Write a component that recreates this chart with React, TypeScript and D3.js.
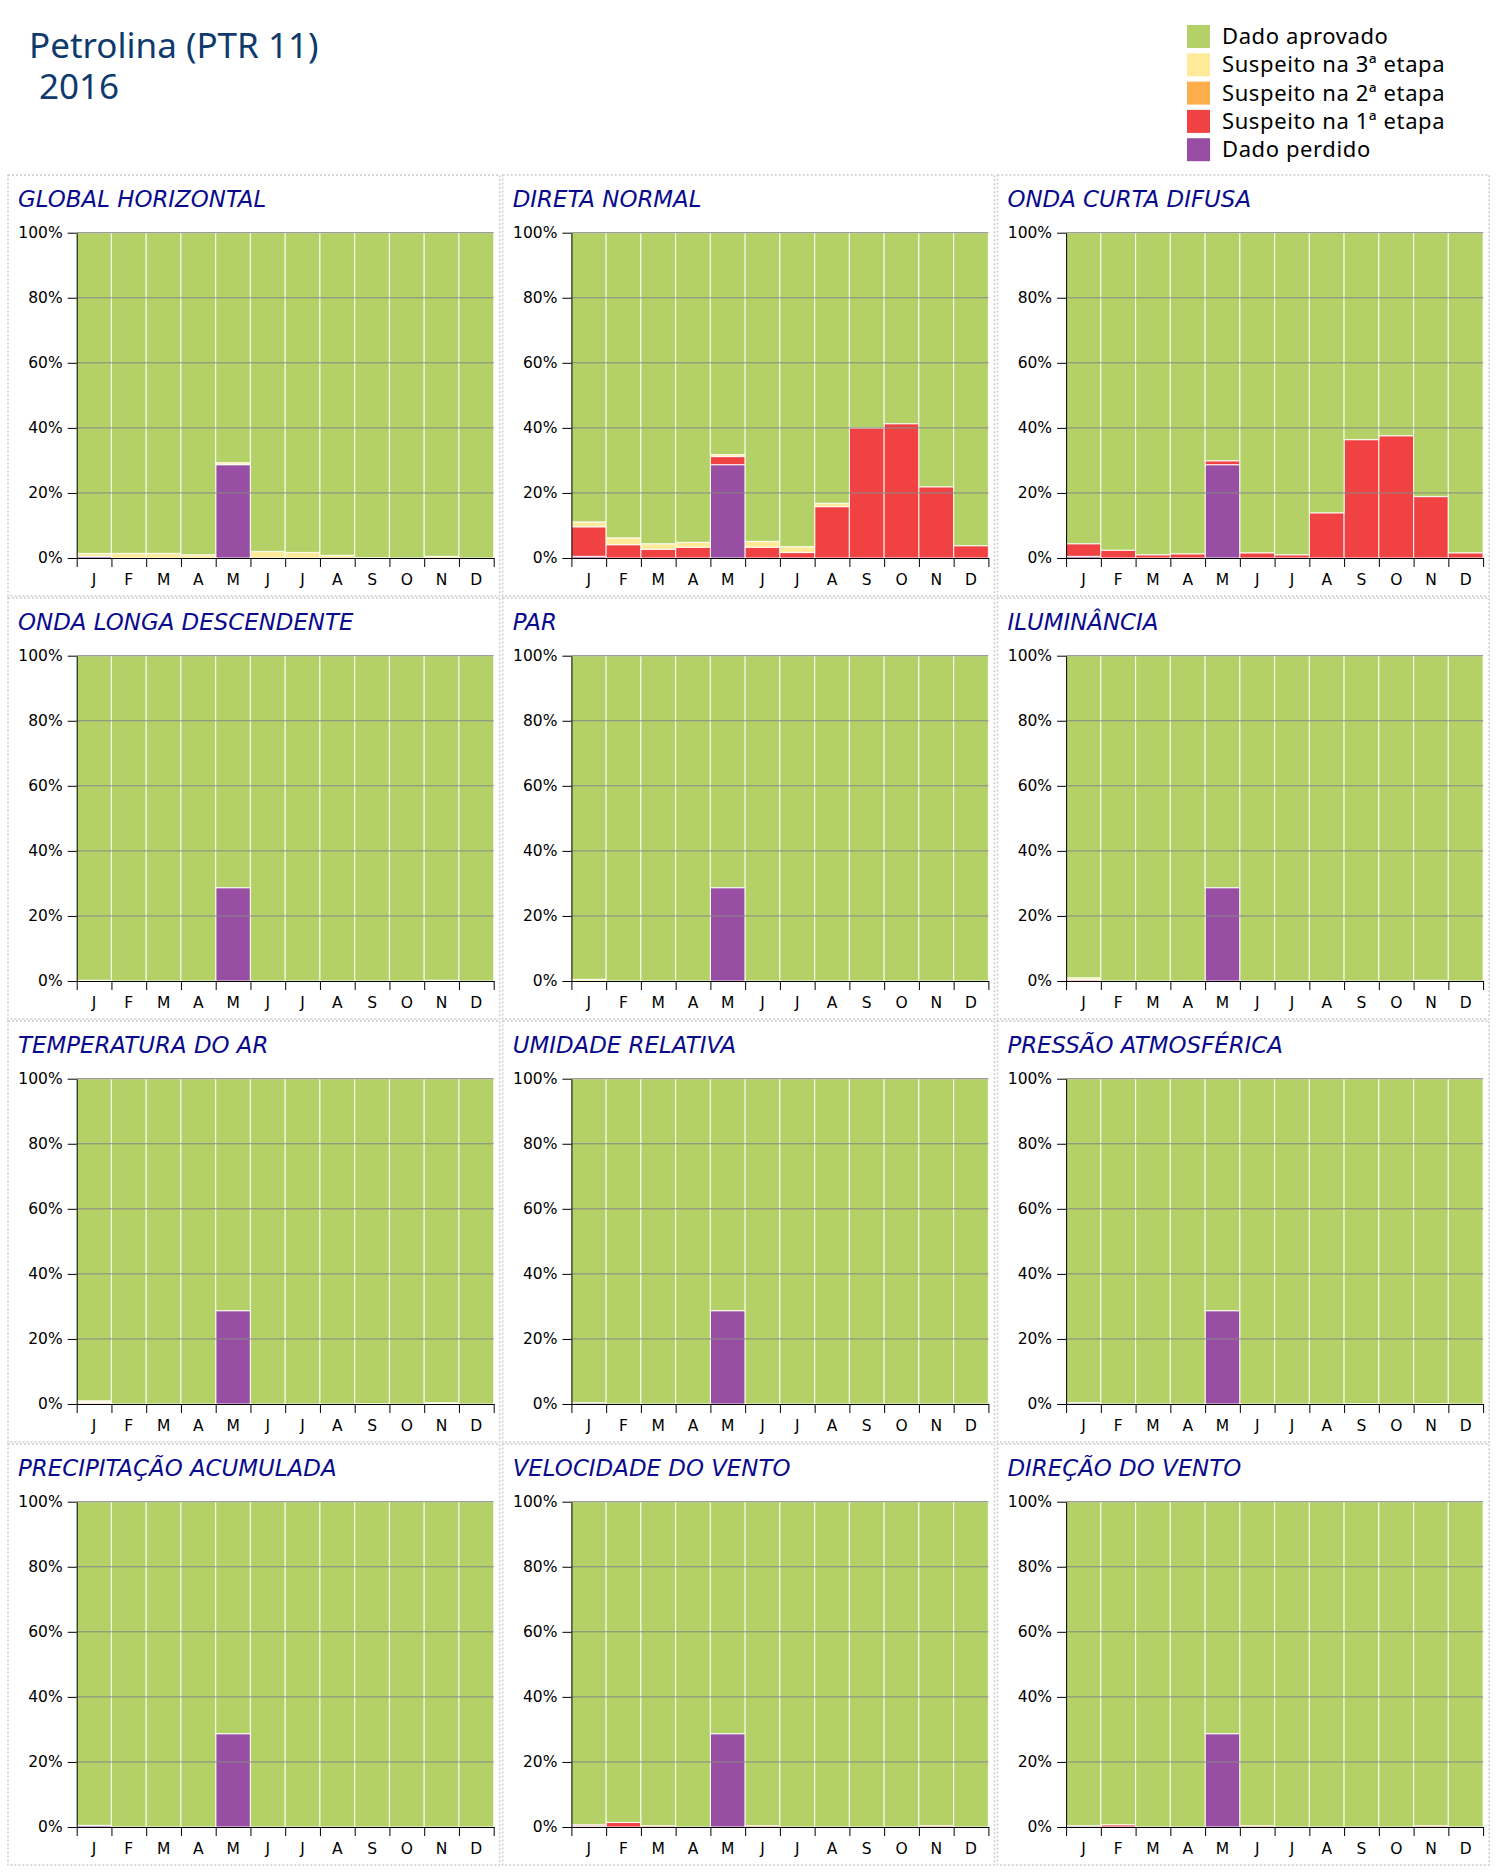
import React, { useRef, useEffect } from "react";
import * as d3 from "d3";

// months (keys must be unique for the band scale, labels are what is drawn)
const monthKeys = ["jan", "fev", "mar", "abr", "mai", "jun", "jul", "ago", "set", "out", "nov", "dez"];
const monthLabels = ["J", "F", "M", "A", "M", "J", "J", "A", "S", "O", "N", "D"];

const panelTitles = [
  "GLOBAL HORIZONTAL", "DIRETA NORMAL", "ONDA CURTA DIFUSA",
  "ONDA LONGA DESCENDENTE", "PAR", "ILUMINÂNCIA",
  "TEMPERATURA DO AR", "UMIDADE RELATIVA", "PRESSÃO ATMOSFÉRICA",
  "PRECIPITAÇÃO ACUMULADA", "VELOCIDADE DO VENTO", "DIREÇÃO DO VENTO",
];

// % of data per month, one row per panel
const perdido = [
  [0.5, 0, 0, 0, 28.7, 0, 0, 0, 0, 0, 0, 0],
  [0.5, 0, 0, 0, 28.7, 0, 0, 0, 0, 0, 0, 0],
  [0.5, 0, 0, 0, 28.7, 0, 0, 0, 0, 0, 0, 0],
  [0, 0, 0, 0, 28.7, 0, 0, 0, 0, 0, 0, 0],
  [0, 0, 0, 0, 28.7, 0, 0, 0, 0, 0, 0, 0],
  [0, 0, 0, 0, 28.7, 0, 0, 0, 0, 0, 0, 0],
  [0.2, 0, 0, 0, 28.7, 0, 0, 0, 0, 0, 0, 0],
  [0.4, 0, 0, 0, 28.7, 0, 0, 0, 0, 0, 0, 0],
  [0.4, 0, 0, 0, 28.7, 0, 0, 0, 0, 0, 0, 0],
  [0.5, 0, 0, 0, 28.7, 0, 0, 0, 0, 0, 0, 0],
  [0.3, 0, 0, 0, 28.7, 0, 0, 0, 0, 0, 0, 0],
  [0.4, 0, 0, 0, 28.7, 0, 0, 0, 0, 0, 0, 0],
];
const etapa1 = [
  [0, 0, 0, 0, 0, 0, 0, 0, 0, 0, 0, 0],
  [9.1, 4.1, 2.7, 3.3, 2.5, 3.3, 1.7, 15.8, 40.0, 41.3, 21.9, 3.8],
  [3.9, 2.4, 1.0, 1.3, 1.2, 1.6, 1.0, 13.9, 36.4, 37.6, 18.9, 1.6],
  [0, 0, 0, 0, 0, 0, 0, 0, 0, 0, 0, 0],
  [0, 0, 0, 0, 0, 0, 0, 0, 0, 0, 0, 0],
  [0.4, 0, 0, 0, 0, 0, 0, 0, 0, 0, 0, 0],
  [0.3, 0, 0, 0, 0, 0, 0, 0, 0, 0, 0, 0],
  [0, 0, 0, 0, 0, 0, 0, 0, 0, 0, 0, 0],
  [0, 0, 0, 0, 0, 0, 0, 0, 0, 0, 0, 0],
  [0, 0, 0, 0, 0, 0, 0, 0, 0, 0, 0, 0],
  [0.4, 1.4, 0.4, 0, 0, 0.4, 0, 0, 0, 0, 0.4, 0],
  [0, 0.7, 0, 0, 0, 0.4, 0, 0, 0, 0, 0.4, 0],
];
const etapa2 = [
  [0, 0, 0, 0, 0, 0, 0, 0, 0, 0, 0, 0],
  [0, 0, 0, 0, 0, 0, 0, 0, 0, 0, 0, 0],
  [0, 0, 0, 0, 0, 0, 0, 0, 0, 0, 0, 0],
  [0, 0, 0, 0, 0, 0, 0, 0, 0, 0, 0, 0],
  [0, 0, 0, 0, 0, 0, 0, 0, 0, 0, 0, 0],
  [0, 0, 0, 0, 0, 0, 0, 0, 0, 0, 0, 0],
  [0, 0, 0, 0, 0, 0, 0, 0, 0, 0, 0.1, 0],
  [0, 0, 0, 0, 0, 0, 0, 0, 0, 0, 0, 0],
  [0, 0, 0, 0, 0, 0, 0, 0, 0, 0, 0, 0],
  [0, 0, 0, 0, 0, 0, 0, 0, 0, 0, 0, 0],
  [0, 0, 0, 0, 0, 0, 0, 0, 0, 0, 0, 0],
  [0, 0, 0, 0, 0, 0, 0, 0, 0, 0, 0, 0],
];
const etapa3 = [
  [0.9, 1.4, 1.4, 1.0, 0.6, 2.0, 1.7, 0.8, 0.1, 0, 0.5, 0],
  [1.5, 2.1, 1.7, 1.5, 0.6, 1.8, 1.8, 1.0, 0, 0, 0, 0],
  [0, 0, 0, 0, 0, 0, 0, 0, 0, 0, 0, 0],
  [0.2, 0, 0, 0, 0, 0, 0, 0, 0, 0, 0.2, 0],
  [0.5, 0, 0, 0, 0, 0, 0, 0, 0, 0, 0, 0],
  [0.6, 0, 0, 0, 0, 0, 0, 0, 0, 0, 0.2, 0],
  [0.5, 0, 0, 0, 0, 0, 0, 0, 0.1, 0, 0.3, 0],
  [0, 0, 0, 0, 0, 0, 0, 0, 0, 0, 0, 0],
  [0, 0, 0, 0, 0, 0, 0, 0, 0.1, 0, 0.1, 0],
  [0, 0, 0, 0, 0, 0, 0, 0, 0, 0, 0, 0],
  [0, 0, 0, 0, 0, 0, 0, 0, 0, 0, 0, 0],
  [0, 0, 0, 0, 0, 0, 0, 0, 0, 0, 0, 0],
];

const yTicks = [0, 20, 40, 60, 80, 100];

// stacking order, bottom to top
const seriesKeys = ["perdido", "etapa1", "etapa2", "etapa3", "aprovado"];
const seriesColors = {
  aprovado: "#b3d167",
  etapa3: "#feea99",
  etapa2: "#fdae4b",
  etapa1: "#f04242",
  perdido: "#984ea3",
};
const legendKeys = ["aprovado", "etapa3", "etapa2", "etapa1", "perdido"];
const legendLabels = ["Dado aprovado", "Suspeito na 3ª etapa", "Suspeito na 2ª etapa", "Suspeito na 1ª etapa", "Dado perdido"];

// layout
const panelX0 = 8, panelY0 = 175, panelW = 494.7, panelH = 423;
const plotLeft = 68.7, plotTop = 57.7, plotW = 417, plotH = 325.3;
const axisFont = "'DejaVu Sans', Verdana, sans-serif";
const uiFont = "'Noto Sans', 'Segoe UI', sans-serif";

function Panel({ index, px, py }) {
  const yAxisRef = useRef(null);
  const xTickRef = useRef(null);
  const xLabelRef = useRef(null);

  const xBand = d3.scaleBand().domain(monthKeys).range([0, plotW]);
  const xEdge = d3.scaleLinear().domain([0, 12]).range([0, plotW]);
  const yScale = d3.scaleLinear().domain([0, 100]).range([plotH, 0]);

  const rows = monthKeys.map((m, i) => {
    const row = {
      month: m,
      perdido: perdido[index][i],
      etapa1: etapa1[index][i],
      etapa2: etapa2[index][i],
      etapa3: etapa3[index][i],
    };
    row.aprovado = 100 - row.perdido - row.etapa1 - row.etapa2 - row.etapa3;
    return row;
  });
  const stacked = d3.stack().keys(seriesKeys)(rows);

  useEffect(() => {
    const yAxis = d3.axisLeft(yScale).tickValues(yTicks).tickFormat((d) => d + "%").tickSize(9).tickSizeOuter(0).tickPadding(5);
    const gy = d3.select(yAxisRef.current).call(yAxis);
    gy.attr("font-family", axisFont).attr("font-size", 15.5);
    gy.selectAll("text").attr("fill", "#000");
    gy.selectAll("line, path").attr("stroke", "#000");

    const tickAxis = d3.axisBottom(xEdge).tickValues(d3.range(13)).tickFormat(() => "").tickSize(9).tickSizeOuter(0);
    const gt = d3.select(xTickRef.current).call(tickAxis);
    gt.selectAll("line, path").attr("stroke", "#000");

    const labelAxis = d3.axisBottom(xBand).tickFormat((d, i) => monthLabels[i]).tickSize(0).tickPadding(16);
    const gl = d3.select(xLabelRef.current).call(labelAxis);
    gl.attr("font-family", axisFont).attr("font-size", 15.5);
    gl.select(".domain").remove();
    gl.selectAll("text").attr("fill", "#000");
  }, [index]);

  return (
    <g transform={`translate(${px},${py})`}>
      <rect x={0} y={0} width={panelW - 3} height={panelH - 2} fill="none" stroke="#cccccc" strokeWidth={1.5} strokeDasharray="2,2" />
      <text x={10} y={32} fontFamily={axisFont} fontStyle="italic" fontSize={22.9} fill="#0a0a8c">
        {panelTitles[index]}
      </text>
      <g transform={`translate(${plotLeft},${plotTop})`}>
        {stacked.map((s) => (
          <g key={s.key} fill={seriesColors[s.key]}>
            {s.map((d) => (
              <rect
                key={d.data.month}
                x={xBand(d.data.month)}
                y={yScale(d[1])}
                width={xBand.bandwidth()}
                height={Math.max(0, yScale(d[0]) - yScale(d[1]))}
                stroke="#fff"
                strokeWidth={1.2}
                strokeOpacity={0.75}
              />
            ))}
          </g>
        ))}
        {yTicks.filter((t) => t > 0).map((t) => (
          <line key={t} x1={0} x2={plotW} y1={yScale(t)} y2={yScale(t)} stroke="#888" strokeWidth={1} />
        ))}
        <g ref={yAxisRef} />
        <g ref={xTickRef} transform={`translate(0,${plotH})`} />
        <g ref={xLabelRef} transform={`translate(0,${plotH})`} />
      </g>
    </g>
  );
}

export default function App() {
  return (
    <svg width={1500} height={1874} style={{ position: "absolute", left: 0, top: 0, background: "#fff" }}>
      <text x={29} y={58} fontFamily={uiFont} fontSize={35} fill="#0f3a6c">Petrolina (PTR 11)</text>
      <text x={39} y={99} fontFamily={uiFont} fontSize={35} fill="#0f3a6c">2016</text>

      <g transform="translate(1187,25)">
        {legendKeys.map((k, i) => (
          <g key={k} transform={`translate(0,${i * 28.3})`}>
            <rect x={0} y={0} width={23} height={23} fill={seriesColors[k]} />
            <text x={35} y={19} fontFamily={uiFont} fontSize={22} letterSpacing={0.6} fill="#000">{legendLabels[i]}</text>
          </g>
        ))}
      </g>

      {panelTitles.map((t, i) => (
        <Panel key={t} index={i} px={panelX0 + (i % 3) * panelW} py={panelY0 + Math.floor(i / 3) * panelH} />
      ))}
    </svg>
  );
}
